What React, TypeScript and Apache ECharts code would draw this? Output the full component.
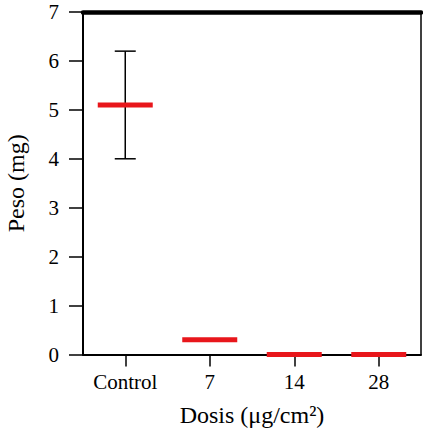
import React, { useEffect, useRef } from "react";
import * as echarts from "echarts";

const categories = ["Control", "7", "14", "28"];
const means = [5.1, 0.3, 0.0, 0.0];
const errLow: (number | null)[] = [4.0, null, null, null];
const errHigh: (number | null)[] = [6.2, null, null, null];
const yMin = 0;
const yMax = 7;
const yInterval = 1;

const FONT = "Liberation Serif";

export default function App() {
  const ref = useRef<HTMLDivElement>(null);
  useEffect(() => {
    if (!ref.current) return;
    const chart = echarts.init(ref.current, null, { renderer: "svg" });
    const meanData = means.map((m, i) => [i, m]);
    const errData: number[][] = [];
    errLow.forEach((lo, i) => {
      const hi = errHigh[i];
      if (lo != null && hi != null) errData.push([i, lo, hi]);
    });
    chart.setOption({
      animation: false,
      backgroundColor: "#ffffff",
      grid: { left: 83, right: 2, top: 12, bottom: 75.5, outerBoundsMode: "none", containLabel: false },
      xAxis: [
        {
          type: "category",
          data: categories,
          position: "bottom",
          axisLine: { show: true, onZero: false, lineStyle: { color: "#000", width: 2 } },
          axisTick: { show: true, alignWithLabel: true, length: 12, lineStyle: { color: "#000", width: 1.5 } },
          axisLabel: { color: "#000", fontFamily: FONT, fontSize: 21, margin: 17 },
          name: "Dosis (μg/cm²)",
          nameLocation: "middle",
          nameGap: 48,
          nameMoveOverlap: false,
          nameTextStyle: { color: "#000", fontFamily: FONT, fontSize: 24 },
          splitLine: { show: false },
        },
        {
          type: "category",
          data: categories,
          position: "top",
          axisLine: { show: true, onZero: false, lineStyle: { color: "#000", width: 4.5 } },
          axisTick: { show: false },
          axisLabel: { show: false },
          splitLine: { show: false },
        },
      ],
      yAxis: [
        {
          type: "value",
          min: yMin,
          max: yMax,
          interval: yInterval,
          position: "left",
          axisLine: { show: true, onZero: false, lineStyle: { color: "#000", width: 2 } },
          axisTick: { show: true, length: 14, lineStyle: { color: "#000", width: 1.5 } },
          axisLabel: { color: "#000", fontFamily: FONT, fontSize: 21, margin: 24 },
          splitLine: { show: false },
          name: "Peso (mg)",
          nameLocation: "middle",
          nameGap: 55,
          nameMoveOverlap: false,
          nameTextStyle: { color: "#000", fontFamily: FONT, fontSize: 24 },
        },
        {
          type: "value",
          min: yMin,
          max: yMax,
          interval: yInterval,
          position: "right",
          axisLine: { show: true, onZero: false, lineStyle: { color: "#000", width: 1.5 } },
          axisTick: { show: false },
          axisLabel: { show: false },
          splitLine: { show: false },
        },
      ],
      series: [
        {
          type: "custom",
          clip: false,
          z: 5,
          data: errData,
          renderItem: (params: any, api: any) => {
            const x = api.value(0);
            const top = api.coord([x, api.value(2)]);
            const bot = api.coord([x, api.value(1)]);
            const cap = 10.5;
            const style = { stroke: "#000", lineWidth: 1.5 };
            return {
              type: "group",
              children: [
                { type: "line", shape: { x1: top[0], y1: top[1], x2: bot[0], y2: bot[1] }, style },
                { type: "line", shape: { x1: top[0] - cap, y1: top[1], x2: top[0] + cap, y2: top[1] }, style },
                { type: "line", shape: { x1: bot[0] - cap, y1: bot[1], x2: bot[0] + cap, y2: bot[1] }, style },
              ],
            };
          },
        },
        {
          type: "custom",
          clip: false,
          z: 10,
          data: meanData,
          renderItem: (params: any, api: any) => {
            const p = api.coord([api.value(0), api.value(1)]);
            const w = 55;
            const h = 5;
            return {
              type: "rect",
              shape: { x: p[0] - w / 2, y: p[1] - h / 2, width: w, height: h },
              style: { fill: "#e8161b" },
            };
          },
        },
      ],
    });
    return () => chart.dispose();
  }, []);
  return (
    <div
      ref={ref}
      style={{ position: "fixed", left: 0, top: 0, width: 423, height: 430, background: "#fff" }}
    />
  );
}
